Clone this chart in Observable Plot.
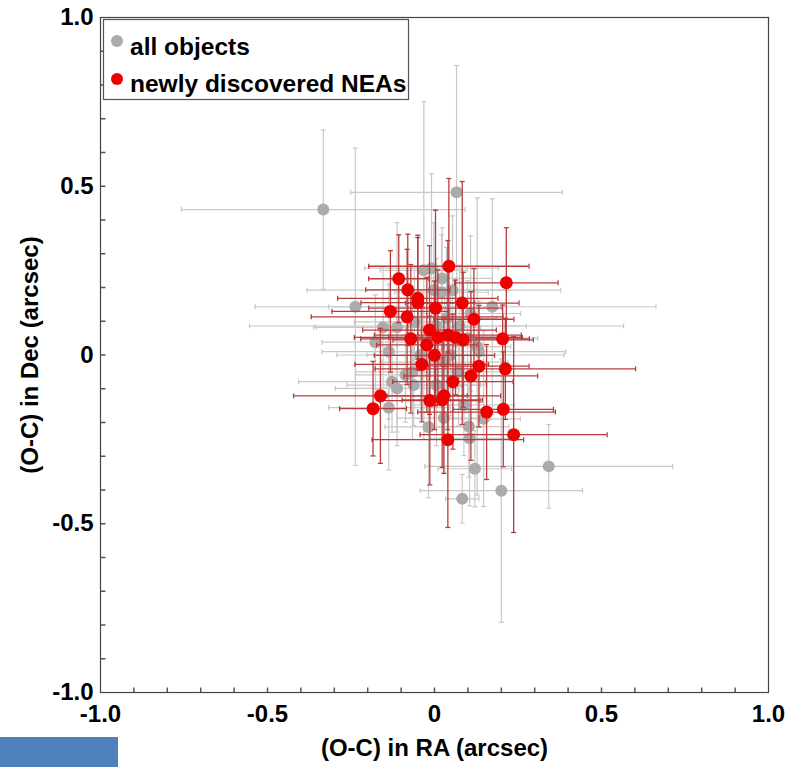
<!DOCTYPE html>
<html>
<head>
<meta charset="utf-8">
<script src="https://cdn.jsdelivr.net/npm/d3@7"></script>
<script src="https://cdn.jsdelivr.net/npm/@observablehq/plot@0.6"></script>
<style>
  body { margin: 0; background: #fff; font-family: "Liberation Sans", Arial, sans-serif; }
  #wrap { position: relative; width: 788px; height: 767px; overflow: hidden; background: #fff; }
  #overlay { position: absolute; left: 0; top: 0; pointer-events: none; }
  #bluebar { position: absolute; left: 0; top: 737px; width: 118px; height: 30px; background: #4f81bd; }
</style>
</head>
<body>
<div id="wrap"></div>
<script>
// ---- data: all objects (gray) ----
const grayX    = [-0.333, 0.066, 0.342, 0.200, 0.083, 0.121, 0.105, -0.018, -0.137, 0.147, 0.028, -0.237, -0.032, -0.009, 0.023, 0.173, -0.154, -0.112, 0.108, -0.002, -0.177, -0.137, -0.127, -0.112, -0.062, 0.088, 0.133, 0.128, 0.048, -0.087, 0.103, 0.006, 0.021, 0.054, -0.060, 0.036, 0.075, -0.042, 0.030, 0.072, -0.066, 0.006, 0.099];
const grayY    = [0.431, 0.482, -0.330, -0.402, -0.426, -0.337, -0.247, -0.213, -0.156, -0.189, -0.187, 0.143, 0.251, 0.257, 0.227, 0.143, 0.082, 0.082, 0.123, 0.192, 0.038, 0.010, -0.079, -0.099, -0.089, -0.148, 0.010, 0.025, 0.000, -0.059, -0.212, 0.086, 0.186, 0.192, 0.098, 0.109, 0.086, 0.000, -0.021, -0.050, -0.050, -0.089, 0.050];
const grayXErr = [0.425, 0.317, 0.371, 0.243, 0.050, 0.110, 0.120, 0.130, 0.180, 0.110, 0.140, 0.300, 0.130, 0.200, 0.150, 0.490, 0.200, 0.250, 0.150, 0.380, 0.160, 0.200, 0.280, 0.185, 0.200, 0.150, 0.260, 0.100, 0.340, 0.150, 0.120, 0.560, 0.140, 0.160, 0.180, 0.150, 0.200, 0.160, 0.190, 0.140, 0.170, 0.150, 0.210];
const grayYErr = [0.236, 0.376, 0.124, 0.390, 0.072, 0.113, 0.200, 0.210, 0.185, 0.260, 0.160, 0.470, 0.500, 0.280, 0.150, 0.320, 0.180, 0.310, 0.230, 0.200, 0.140, 0.200, 0.150, 0.170, 0.120, 0.150, 0.150, 0.440, 0.180, 0.140, 0.150, 0.200, 0.170, 0.220, 0.160, 0.210, 0.180, 0.190, 0.220, 0.160, 0.200, 0.180, 0.170];

// ---- data: newly discovered NEAs (red) ----
const redX    = [0.043, -0.107, 0.215, -0.080, -0.050, -0.050, 0.083, 0.003, -0.132, -0.082, 0.118, -0.015, -0.071, 0.010, 0.040, 0.063, 0.086, 0.204, -0.023, 0.000, -0.038, 0.133, 0.212, 0.109, 0.055, -0.162, -0.014, 0.023, 0.028, -0.184, 0.156, 0.206, 0.237, 0.040];
const redY    = [0.263, 0.226, 0.214, 0.193, 0.168, 0.155, 0.154, 0.139, 0.129, 0.113, 0.106, 0.074, 0.048, 0.052, 0.059, 0.052, 0.045, 0.048, 0.030, -0.001, -0.028, -0.033, -0.041, -0.062, -0.079, -0.121, -0.135, -0.133, -0.121, -0.159, -0.169, -0.161, -0.236, -0.251];
const redXErr = [0.240, 0.090, 0.155, 0.126, 0.240, 0.170, 0.170, 0.200, 0.175, 0.287, 0.120, 0.200, 0.150, 0.250, 0.220, 0.200, 0.210, 0.080, 0.150, 0.180, 0.200, 0.150, 0.390, 0.200, 0.180, 0.260, 0.150, 0.120, 0.170, 0.100, 0.206, 0.150, 0.280, 0.227];
const redYErr = [0.260, 0.130, 0.163, 0.165, 0.180, 0.200, 0.360, 0.290, 0.180, 0.200, 0.150, 0.250, 0.220, 0.200, 0.280, 0.170, 0.200, 0.100, 0.200, 0.220, 0.170, 0.180, 0.150, 0.250, 0.200, 0.200, 0.250, 0.200, 0.230, 0.140, 0.200, 0.170, 0.290, 0.260];

// ---- axes / labels ----
const majorTicks = [-1, -0.5, 0, 0.5, 1];
const minorTicks = [-0.9, -0.8, -0.7, -0.6, -0.5, -0.4, -0.3, -0.2, -0.1, 0, 0.1, 0.2, 0.3, 0.4, 0.5, 0.6, 0.7, 0.8, 0.9];
const xTitle = "(O-C) in RA (arcsec)";
const yTitle = "(O-C) in Dec (arcsec)";
const legendLabels = ["all objects", "newly discovered NEAs"];
const seriesColors = ["#ababab", "#ee0000"];
const barColors = ["#c8c8c8", "#b83c3c"];

const toRows = (X, Y, XE, YE) => X.map((x, i) => ({x, y: Y[i], xe: XE[i], ye: YE[i]}));
const gray = toRows(grayX, grayY, grayXErr, grayYErr);
const red = toRows(redX, redY, redXErr, redYErr);

const vline = {draw(ctx, size) { const r = Math.sqrt(size / Math.PI); ctx.moveTo(0, -r); ctx.lineTo(0, r); }};
const hline = {draw(ctx, size) { const r = Math.sqrt(size / Math.PI); ctx.moveTo(-r, 0); ctx.lineTo(r, 0); }};
const fmt = d => d === 0 ? "0" : d.toFixed(1);

function errMarks(data, color, w) {
  return [
    Plot.ruleY(data, {y: "y", x1: d => d.x - d.xe, x2: d => d.x + d.xe, stroke: color, strokeWidth: w}),
    Plot.ruleX(data, {x: "x", y1: d => d.y - d.ye, y2: d => d.y + d.ye, stroke: color, strokeWidth: w}),
    Plot.dot(data, {x: d => d.x - d.xe, y: "y", symbol: vline, r: 2.5, stroke: color, strokeWidth: w}),
    Plot.dot(data, {x: d => d.x + d.xe, y: "y", symbol: vline, r: 2.5, stroke: color, strokeWidth: w}),
    Plot.dot(data, {x: "x", y: d => d.y - d.ye, symbol: hline, r: 2.5, stroke: color, strokeWidth: w}),
    Plot.dot(data, {x: "x", y: d => d.y + d.ye, symbol: hline, r: 2.5, stroke: color, strokeWidth: w})
  ];
}

const chart = Plot.plot({
  width: 788,
  height: 767,
  marginLeft: 100,
  marginRight: 20,
  marginTop: 17,
  marginBottom: 75,
  style: {fontFamily: "'Liberation Sans', Arial, sans-serif", fontSize: "24px", fontWeight: "bold", color: "#000", background: "#fff"},
  x: {domain: [-1, 1]},
  y: {domain: [-1, 1]},
  marks: [
    ...errMarks(gray, barColors[0], 1.2),
    Plot.dot(gray, {x: "x", y: "y", r: 6, fill: seriesColors[0]}),
    ...errMarks(red, barColors[1], 1.3),
    Plot.dot(red, {x: "x", y: "y", r: 6.5, fill: seriesColors[1]}),
    Plot.dot(minorTicks, {x: d => d, frameAnchor: "bottom", symbol: vline, r: 2.5, dy: -2.5, stroke: "#555"}),
    Plot.dot(minorTicks, {y: d => d, frameAnchor: "left", symbol: hline, r: 2.5, dx: 2.5, stroke: "#555"}),
    Plot.frame({stroke: "#444", strokeWidth: 1.2}),
    Plot.axisX({ticks: majorTicks, tickSize: 0, tickPadding: 12, tickFormat: fmt, label: null, fontSize: 24, fontWeight: "bold"}),
    Plot.axisY({ticks: majorTicks, tickSize: 0, tickPadding: 7, tickFormat: fmt, label: null, fontSize: 24, fontWeight: "bold"}),
    Plot.text([xTitle], {text: d => d, frameAnchor: "bottom", textAnchor: "middle", dy: 56, lineAnchor: "middle", fontSize: 24, fontWeight: "bold"}),
    Plot.text([yTitle], {text: d => d, frameAnchor: "left", textAnchor: "middle", dx: -70, rotate: -90, lineAnchor: "middle", fontSize: 24, fontWeight: "bold"})
  ]
});

const wrap = document.getElementById("wrap");
wrap.appendChild(chart);

// legend overlay (inside plot area, top-left)
const ns = "http://www.w3.org/2000/svg";
const ov = document.createElementNS(ns, "svg");
ov.setAttribute("id", "overlay");
ov.setAttribute("width", 788);
ov.setAttribute("height", 767);
const g = d3.select(ov);
g.append("rect").attr("x", 103.5).attr("y", 19.5).attr("width", 305).attr("height", 80)
  .attr("fill", "#fff").attr("stroke", "#555").attr("stroke-width", 1.2);
legendLabels.forEach((lab, i) => {
  g.append("circle").attr("cx", 117).attr("cy", 41 + i * 38).attr("r", 6).attr("fill", seriesColors[i]);
  g.append("text").attr("x", 130).attr("y", 55 + i * 37).text(lab)
    .attr("font-family", "'Liberation Sans', Arial, sans-serif").attr("font-size", 24.5).attr("font-weight", "bold").attr("fill", "#000");
});
wrap.appendChild(ov);

const bar = document.createElement("div");
bar.id = "bluebar";
wrap.appendChild(bar);
</script>
</body>
</html>
